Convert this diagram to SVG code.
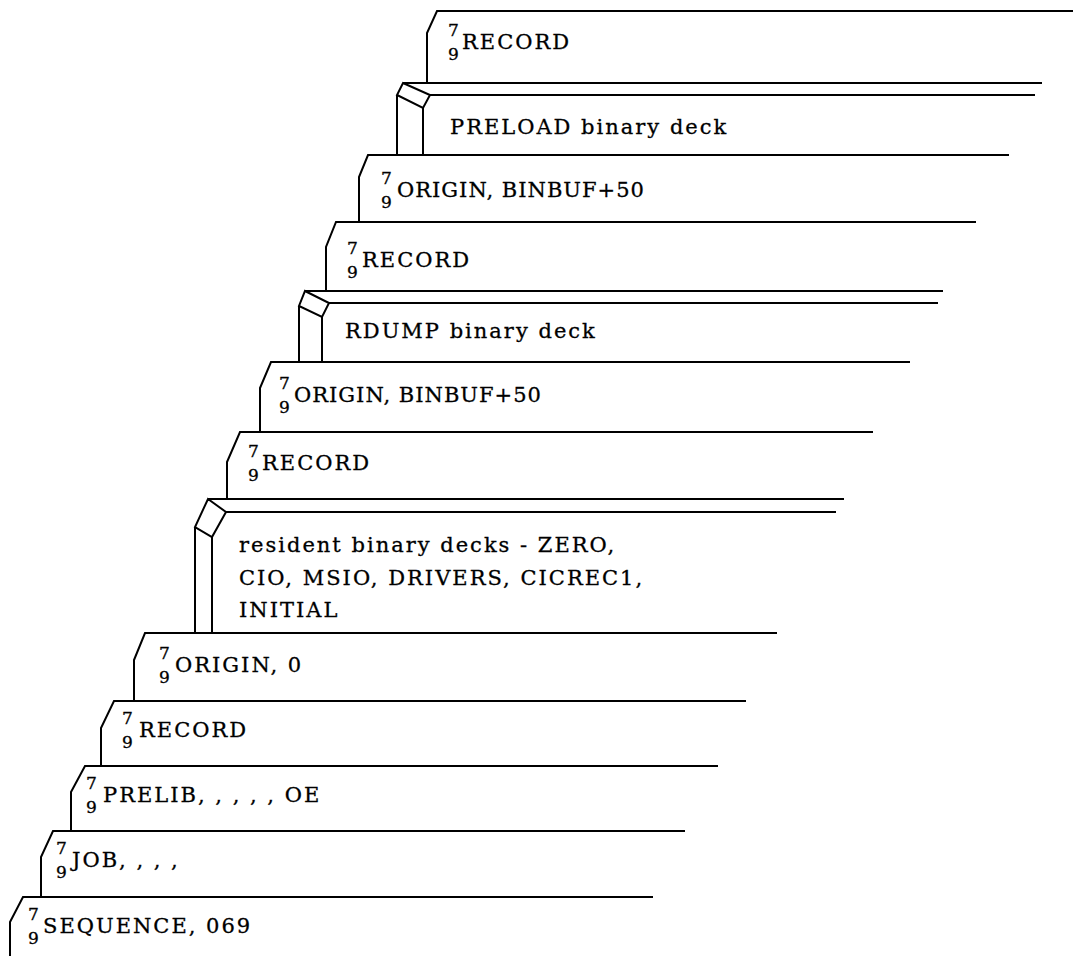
<svg xmlns="http://www.w3.org/2000/svg" width="1073" height="956" viewBox="0 0 1073 956">
<style>
.c{fill:none;stroke:#000;stroke-width:2;stroke-linejoin:miter}
.t{font-family:"DejaVu Serif","Liberation Serif",serif;font-size:21px;letter-spacing:2px;fill:#000;stroke:#000;stroke-width:0.3}
.n{letter-spacing:1px}
.d{font-family:"DejaVu Serif","Liberation Serif",serif;font-size:17px;fill:#000;stroke:#000;stroke-width:0.3}
</style>
<rect width="1073" height="956" fill="#fff"/>
<g id="card1">
<path class="c" d="M1073,11 H437 L427,33 V83"/>
<text class="d" x="448" y="36">7</text><text class="d" x="448" y="60">9</text><text class="t" x="462" y="49">RECORD</text>
</g>
<g id="card2">
<path class="c" d="M1042,83 H403 M403,83 L430,95 L423,108 L397,95 Z M430,95 H1035 M397,95 V155 M423,108 V155"/>
<text class="t" x="450" y="134">PRELOAD binary deck</text>
</g>
<g id="card3">
<path class="c" d="M1009,155 H368 L359,177 V222"/>
<text class="d" x="381" y="184">7</text><text class="d" x="381" y="208">9</text><text class="t n" x="397" y="197">ORIGIN, BINBUF+50</text>
</g>
<g id="card4">
<path class="c" d="M976,222 H336 L326,247 V291"/>
<text class="d" x="347" y="254">7</text><text class="d" x="347" y="278">9</text><text class="t" x="362" y="267">RECORD</text>
</g>
<g id="card5">
<path class="c" d="M943,291 H305 M305,291 L329,303 L322,317 L299,306 Z M329,303 H938 M299,306 V362 M322,317 V362"/>
<text class="t" x="345" y="338">RDUMP binary deck</text>
</g>
<g id="card6">
<path class="c" d="M910,362 H271 L260,388 V432"/>
<text class="d" x="279" y="389">7</text><text class="d" x="279" y="413">9</text><text class="t n" x="294" y="402">ORIGIN, BINBUF+50</text>
</g>
<g id="card7">
<path class="c" d="M873,432 H240 L227,462 V499"/>
<text class="d" x="248" y="457">7</text><text class="d" x="248" y="481">9</text><text class="t" x="262" y="470">RECORD</text>
</g>
<g id="card8">
<path class="c" d="M844,499 H208 M208,499 L226,512 L212,537 L195,527 Z M226,512 H836 M195,527 V633 M212,537 V633"/>
<text class="t" x="239" y="552">resident binary decks - ZERO,</text>
<text class="t" x="239" y="585">CIO, MSIO, DRIVERS, CICREC1,</text>
<text class="t" x="239" y="617">INITIAL</text>
</g>
<g id="card9">
<path class="c" d="M777,633 H145 L134,660 V701"/>
<text class="d" x="159" y="659">7</text><text class="d" x="159" y="683">9</text><text class="t" x="175" y="672">ORIGIN, 0</text>
</g>
<g id="card10">
<path class="c" d="M746,701 H114 L101,728 V766"/>
<text class="d" x="122" y="724">7</text><text class="d" x="122" y="748">9</text><text class="t" x="139" y="737">RECORD</text>
</g>
<g id="card11">
<path class="c" d="M718,766 H85 L71,792 V831"/>
<text class="d" x="86" y="789">7</text><text class="d" x="86" y="813">9</text><text class="t" x="103" y="802">PRELIB, , , , , OE</text>
</g>
<g id="card12">
<path class="c" d="M685,831 H53 L41,857 V897"/>
<text class="d" x="56" y="854">7</text><text class="d" x="56" y="878">9</text><text class="t" x="72" y="867">JOB, , , ,</text>
</g>
<g id="card13">
<path class="c" d="M653,897 H23 L10,922 V956"/>
<text class="d" x="28" y="920">7</text><text class="d" x="28" y="944">9</text><text class="t" x="43" y="933">SEQUENCE, 069</text>
</g>
</svg>
